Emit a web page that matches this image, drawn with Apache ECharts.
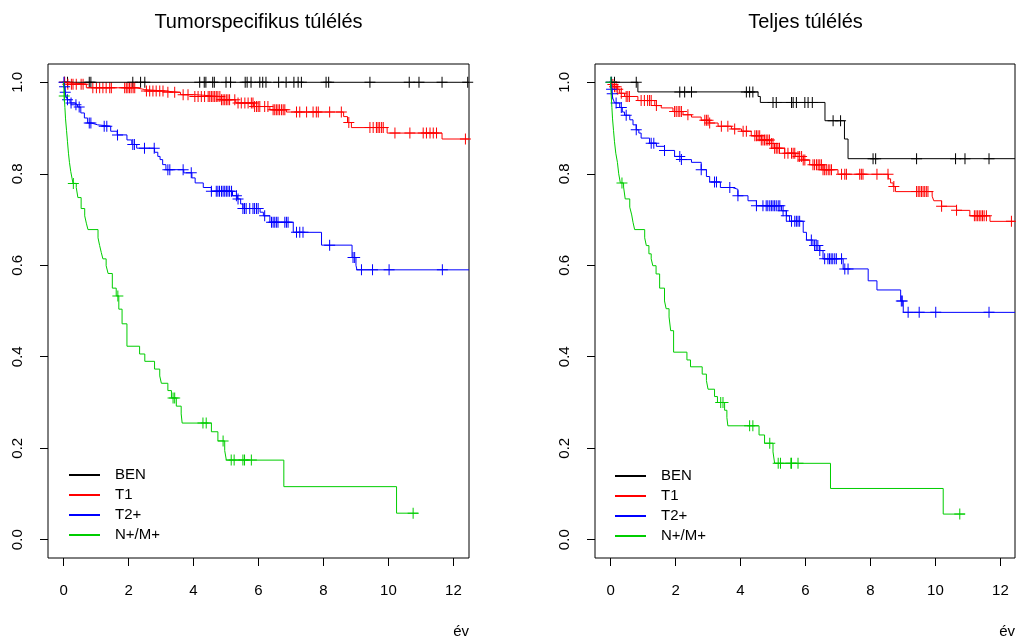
<!DOCTYPE html>
<html><head><meta charset="utf-8">
<script src="https://cdn.jsdelivr.net/npm/echarts@6/dist/echarts.min.js"></script>
<style>html,body{margin:0;padding:0;background:#fff}#c{width:1016px;height:639px}</style>
</head><body><div id="c"></div>
<script>
// ---------- data ----------
const groups = ['BEN', 'T1', 'T2+', 'N+/M+'];
const xTicks = [0, 2, 4, 6, 8, 10, 12];
const yTicks = [0, 0.2, 0.4, 0.6, 0.8, 1.0];
const panelTitles = ['Tumorspecifikus túlélés', 'Teljes túlélés'];
const xName = 'év';

// Tumour-specific survival (left panel)
const tsBenTime = [0, 12.48];
const tsBenSurv = [1, 1];
const tsBenCens = [0.03, 0.12, 0.79, 0.84, 2.13, 2.37, 2.5, 4.19, 4.33, 4.38, 4.59, 4.64, 5.0, 5.14, 5.59, 5.65, 5.77, 6.04, 6.13, 6.23, 6.62, 6.85, 7.09, 7.22, 7.32, 8.08, 8.16, 9.43, 10.64, 10.94, 11.65, 12.44];

const tsT1Time = [0, 0.08, 0.7, 2.24, 2.5, 3.1, 3.6, 4.03, 4.85, 5.3, 5.85, 6.35, 6.86, 8.62, 8.74, 8.86, 9.96, 11.65, 12.48];
const tsT1Surv = [1, 0.996, 0.988, 0.984, 0.981, 0.978, 0.973, 0.969, 0.962, 0.955, 0.947, 0.940, 0.935, 0.925, 0.912, 0.901, 0.889, 0.876, 0.876];
const tsT1Cens = [0.03, 0.13, 0.24, 0.29, 0.39, 0.54, 0.6, 0.9, 1.01, 1.11, 1.21, 1.31, 1.42, 1.47, 1.88, 1.93, 1.98, 2.03, 2.08, 2.14, 2.19, 2.55, 2.65, 2.75, 2.85, 2.96, 3.06, 3.21, 3.42, 3.68, 3.83, 4.04, 4.14, 4.24, 4.34, 4.45, 4.5, 4.55, 4.6, 4.65, 4.7, 4.75, 4.81, 4.86, 4.91, 4.96, 5.01, 5.06, 5.11, 5.27, 5.37, 5.47, 5.58, 5.68, 5.78, 5.83, 5.88, 5.94, 5.99, 6.04, 6.19, 6.29, 6.45, 6.5, 6.55, 6.6, 6.65, 6.71, 6.76, 6.81, 7.17, 7.27, 7.48, 7.68, 7.78, 7.84, 8.19, 8.55, 8.78, 9.43, 9.53, 9.63, 9.68, 9.73, 9.79, 9.84, 10.2, 10.66, 11.07, 11.17, 11.28, 11.38, 11.48, 12.37];

const tsT2Time = [0, 0.02, 0.05, 0.08, 0.12, 0.2, 0.33, 0.43, 0.53, 0.64, 0.74, 0.85, 1.05, 1.45, 1.65, 1.95, 2.1, 2.25, 2.8, 2.9, 2.97, 3.05, 3.15, 3.7, 3.95, 4.05, 4.3, 4.55, 5.2, 5.35, 5.45, 5.52, 6.05, 6.15, 6.35, 7.07, 7.94, 8.88, 9.0, 9.03, 12.48];
const tsT2Surv = [1, 0.99, 0.978, 0.968, 0.962, 0.955, 0.951, 0.946, 0.933, 0.922, 0.911, 0.907, 0.904, 0.893, 0.885, 0.874, 0.864, 0.856, 0.847, 0.838, 0.831, 0.820, 0.809, 0.802, 0.791, 0.780, 0.770, 0.762, 0.752, 0.745, 0.734, 0.724, 0.716, 0.708, 0.694, 0.672, 0.644, 0.617, 0.60, 0.59, 0.59];
const tsT2Cens = [0.01, 0.03, 0.05, 0.12, 0.23, 0.38, 0.48, 0.79, 0.84, 1.25, 1.33, 1.66, 2.13, 2.18, 2.49, 2.79, 3.21, 3.27, 3.68, 3.93, 4.55, 4.7, 4.75, 4.8, 4.86, 4.91, 4.96, 5.01, 5.06, 5.11, 5.17, 5.32, 5.37, 5.52, 5.57, 5.62, 5.73, 5.83, 5.88, 5.94, 5.99, 6.19, 6.4, 6.45, 6.5, 6.55, 6.6, 6.81, 6.86, 6.91, 7.17, 7.27, 7.37, 8.19, 8.91, 8.96, 9.17, 9.51, 10.02, 11.66];

const tsNmTime = [0, 0.02, 0.04, 0.06, 0.09, 0.12, 0.15, 0.18, 0.22, 0.26, 0.29, 0.39, 0.44, 0.54, 0.65, 0.7, 0.75, 1.06, 1.11, 1.16, 1.21, 1.31, 1.37, 1.5, 1.62, 1.7, 1.8, 1.95, 2.34, 2.5, 2.8, 2.96, 3.01, 3.21, 3.32, 3.47, 3.62, 3.65, 4.55, 4.75, 4.96, 5.01, 6.78, 10.25, 10.92];
const tsNmSurv = [1, 0.97, 0.945, 0.92, 0.895, 0.87, 0.845, 0.825, 0.805, 0.79, 0.779, 0.77, 0.748, 0.724, 0.708, 0.692, 0.678, 0.66, 0.643, 0.628, 0.614, 0.599, 0.582, 0.55, 0.533, 0.504, 0.472, 0.423, 0.406, 0.39, 0.373, 0.358, 0.342, 0.326, 0.31, 0.292, 0.275, 0.255, 0.236, 0.216, 0.195, 0.174, 0.116, 0.058, 0.058];
const tsNmCens = [0.02, 0.3, 1.67, 3.37, 3.42, 4.29, 4.39, 4.91, 5.16, 5.25, 5.52, 5.57, 5.78, 10.76];

// Overall survival (right panel)
const osBenTime = [0, 0.84, 4.54, 4.61, 6.6, 7.2, 7.31, 12.45];
const osBenSurv = [1, 0.979, 0.969, 0.956, 0.916, 0.876, 0.833, 0.833];
const osBenCens = [0.03, 0.12, 0.79, 2.13, 2.28, 2.49, 4.18, 4.28, 4.38, 5.0, 5.1, 5.57, 5.62, 5.72, 5.98, 6.08, 6.21, 6.85, 7.08, 8.08, 8.16, 9.42, 10.62, 10.91, 11.65];

const osT1Time = [0, 0.05, 0.1, 0.2, 0.28, 0.43, 0.84, 1.36, 1.56, 1.92, 2.23, 2.49, 2.79, 3.05, 3.31, 3.72, 4.03, 4.33, 4.64, 4.9, 5.05, 5.36, 5.7, 5.93, 6.13, 6.54, 7.0, 8.55, 8.62, 8.7, 8.77, 9.9, 9.95, 10.19, 10.65, 11.06, 11.68, 12.45];
const osT1Surv = [1, 0.995, 0.99, 0.985, 0.976, 0.969, 0.96, 0.949, 0.944, 0.936, 0.929, 0.924, 0.917, 0.911, 0.904, 0.898, 0.893, 0.883, 0.874, 0.866, 0.856, 0.845, 0.838, 0.83, 0.82, 0.809, 0.799, 0.789, 0.78, 0.772, 0.761, 0.751, 0.741, 0.729, 0.72, 0.708, 0.696, 0.696];
const osT1Cens = [0.07, 0.12, 0.17, 0.22, 0.33, 0.48, 0.53, 0.58, 0.94, 1.04, 1.14, 1.2, 1.25, 1.41, 1.97, 2.02, 2.08, 2.13, 2.18, 2.38, 2.9, 2.95, 3.0, 3.05, 3.41, 3.61, 3.82, 4.08, 4.18, 4.44, 4.49, 4.54, 4.59, 4.64, 4.69, 4.74, 4.79, 4.84, 4.89, 4.95, 5.0, 5.05, 5.1, 5.15, 5.2, 5.36, 5.46, 5.57, 5.62, 5.67, 5.77, 5.82, 5.88, 5.93, 5.98, 6.23, 6.28, 6.34, 6.39, 6.44, 6.49, 6.54, 6.59, 6.64, 6.7, 6.75, 6.8, 7.11, 7.21, 7.26, 7.67, 7.72, 7.77, 8.2, 8.54, 8.72, 9.42, 9.47, 9.52, 9.57, 9.62, 9.67, 9.72, 9.77, 10.19, 10.65, 11.2, 11.25, 11.3, 11.35, 11.4, 11.45, 11.5, 11.57, 12.34];

const osT2Time = [0, 0.02, 0.04, 0.07, 0.1, 0.12, 0.28, 0.36, 0.43, 0.59, 0.69, 0.79, 0.87, 0.94, 1.2, 1.41, 1.66, 1.97, 2.18, 2.49, 2.79, 2.95, 3.05, 3.38, 3.75, 3.92, 4.23, 4.49, 5.26, 5.41, 5.51, 5.93, 6.03, 6.23, 6.44, 6.54, 7.16, 7.93, 8.2, 8.93, 9.01, 12.45];
const osT2Surv = [1, 0.985, 0.975, 0.965, 0.962, 0.955, 0.945, 0.935, 0.928, 0.918, 0.907, 0.896, 0.889, 0.878, 0.867, 0.86, 0.851, 0.838, 0.831, 0.825, 0.809, 0.794, 0.782, 0.77, 0.766, 0.752, 0.741, 0.73, 0.719, 0.708, 0.696, 0.672, 0.655, 0.643, 0.632, 0.614, 0.592, 0.566, 0.546, 0.522, 0.497, 0.497];
const osT2Cens = [0.01, 0.03, 0.05, 0.17, 0.33, 0.48, 0.79, 1.25, 1.33, 1.66, 2.13, 2.18, 2.79, 3.2, 3.26, 3.67, 3.92, 4.49, 4.69, 4.79, 4.84, 4.9, 4.95, 5.0, 5.05, 5.1, 5.16, 5.21, 5.31, 5.41, 5.57, 5.67, 5.72, 5.77, 5.82, 6.18, 6.28, 6.33, 6.38, 6.44, 6.59, 6.69, 6.74, 6.79, 6.84, 6.9, 6.95, 7.11, 7.21, 7.31, 8.95, 8.98, 9.16, 9.5, 10.01, 11.65];

const osNmTime = [0, 0.02, 0.04, 0.06, 0.09, 0.12, 0.16, 0.21, 0.25, 0.3, 0.4, 0.45, 0.59, 0.65, 0.69, 0.74, 1.05, 1.1, 1.18, 1.25, 1.3, 1.4, 1.51, 1.66, 1.71, 1.8, 1.85, 1.94, 2.35, 2.46, 2.82, 2.95, 3.0, 3.2, 3.29, 3.51, 3.58, 3.61, 4.57, 4.74, 5.0, 5.05, 6.77, 10.24, 10.91];
const osNmSurv = [1, 0.97, 0.945, 0.92, 0.895, 0.87, 0.845, 0.825, 0.8, 0.78, 0.771, 0.745, 0.727, 0.71, 0.694, 0.678, 0.66, 0.643, 0.625, 0.614, 0.599, 0.581, 0.55, 0.522, 0.505, 0.487, 0.457, 0.41, 0.393, 0.378, 0.362, 0.348, 0.329, 0.313, 0.3, 0.283, 0.267, 0.249, 0.229, 0.211, 0.192, 0.167, 0.112, 0.056, 0.056];
const osNmCens = [0.01, 0.35, 3.39, 3.46, 4.28, 4.38, 4.9, 5.16, 5.23, 5.55, 5.57, 5.77, 10.75];

// ---------- chart ----------
const FONT = '"Liberation Sans", Arial, Helvetica, sans-serif';
const colors = ['#000000', '#ff0000', '#0000ff', '#00cd00'];
const panels = [
  [[tsBenTime, tsBenSurv, tsBenCens], [tsT1Time, tsT1Surv, tsT1Cens], [tsT2Time, tsT2Surv, tsT2Cens], [tsNmTime, tsNmSurv, tsNmCens]],
  [[osBenTime, osBenSurv, osBenCens], [osT1Time, osT1Surv, osT1Cens], [osT2Time, osT2Surv, osT2Cens], [osNmTime, osNmSurv, osNmCens]]
];
const PLUS = 'path://M5,0H6V5H11V6H6V11H5V6H0V5H5Z';

function stepAt(times, surv, t) {
  let s = surv[0];
  for (let i = 0; i < times.length; i++) { if (times[i] <= t) s = surv[i]; else break; }
  return s;
}

const series = [];
panels.forEach((grp, p) => {
  grp.forEach((d, g) => {
    const [tm, sv, cn] = d;
    series.push({
      type: 'line', name: groups[g], xAxisIndex: p, yAxisIndex: p, step: 'end',
      symbol: 'none', showSymbol: false, silent: true, animation: false,
      lineStyle: { color: colors[g], width: 1 }, itemStyle: { color: colors[g] },
      data: tm.map((t, i) => [t, sv[i]])
    });
    series.push({
      type: 'scatter', name: groups[g] + ' cens', xAxisIndex: p, yAxisIndex: p,
      symbol: PLUS, symbolSize: 11, silent: true, animation: false,
      itemStyle: { color: colors[g], opacity: 1 },
      data: cn.map(t => [t, stepAt(tm, sv, t)])
    });
  });
});

const axisTxt = { fontSize: 15, color: '#000', fontFamily: FONT };
function xAx(i, max) {
  return { gridIndex: i, type: 'value', min: -0.48, max: max, position: 'bottom',
    axisLine: { show: false, onZero: false }, splitLine: { show: false },
    axisTick: { show: true, inside: false, length: 8, customValues: xTicks, lineStyle: { color: '#000', width: 1 } },
    axisLabel: Object.assign({ customValues: xTicks, margin: 25 }, axisTxt) };
}
function yAx(i) {
  return { gridIndex: i, type: 'value', min: -0.04, max: 1.04, position: 'left',
    axisLine: { show: false, onZero: false }, splitLine: { show: false },
    axisTick: { show: true, inside: false, length: 8, customValues: yTicks, lineStyle: { color: '#000', width: 1 } },
    axisLabel: Object.assign({ customValues: yTicks, margin: 23, rotate: 90, formatter: v => v.toFixed(1) }, axisTxt) };
}
function legendAt(left, top) {
  return { data: groups, orient: 'vertical', left: left, top: top, padding: 0,
    itemWidth: 31, itemHeight: 14, itemGap: 0, selectedMode: false,
    lineStyle: { width: 2 },
    itemStyle: { opacity: 0, borderWidth: 0 },
    textStyle: { fontSize: 15, color: '#000', fontFamily: FONT, lineHeight: 20, padding: [0, 0, 0, 10] } };
}
const titleTxt = { fontSize: 20, fontWeight: 'normal', color: '#000', fontFamily: FONT };
const option = {
  backgroundColor: '#fff',
  animation: false,
  title: [
    { text: panelTitles[0], left: 258.5, top: 12, textAlign: 'center', padding: 0, textStyle: titleTxt },
    { text: panelTitles[1], left: 805.5, top: 12, textAlign: 'center', padding: 0, textStyle: titleTxt },
    { text: xName, left: 469, top: 624, textAlign: 'right', padding: 0, textStyle: { fontSize: 15, fontWeight: 'normal', color: '#000', fontFamily: FONT } },
    { text: xName, left: 1015, top: 624, textAlign: 'right', padding: 0, textStyle: { fontSize: 15, fontWeight: 'normal', color: '#000', fontFamily: FONT } }
  ],
  legend: [legendAt(68, 465), legendAt(614, 466)],
  grid: [
    { left: 48, top: 64, width: 421, height: 494, show: true, borderColor: '#000', borderWidth: 1, backgroundColor: 'transparent' },
    { left: 595, top: 64, width: 420, height: 494, show: true, borderColor: '#000', borderWidth: 1, backgroundColor: 'transparent' }
  ],
  xAxis: [xAx(0, 12.48), xAx(1, 12.45)],
  yAxis: [yAx(0), yAx(1)],
  series: series
};
const chart = echarts.init(document.getElementById('c'), null, { renderer: 'canvas' });
chart.setOption(option);
</script>
</body></html>
